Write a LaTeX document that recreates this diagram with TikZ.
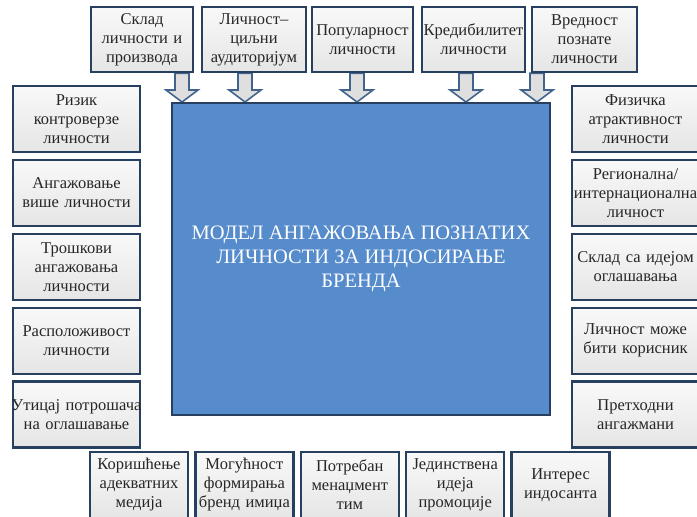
\documentclass[tikz,border=0pt]{standalone}
\usepackage{fontspec}
\setmainfont{Liberation Serif}
\usetikzlibrary{positioning,calc,backgrounds}
\definecolor{boxline}{RGB}{40,64,96}
\definecolor{modelfill}{RGB}{86,139,204}
\definecolor{arrowline}{RGB}{66,100,140}
% block arrow from a point under a top box down to the model box
\newcommand{\downarr}[2]{%
  \draw[blockarr] let \p1=(#1), \p2=(#2) in
    (\x1-7pt,\y1) -- (\x1+7pt,\y1) -- (\x1+7pt,\y2+12pt) -- (\x1+16pt,\y2+12pt)
    -- (\x1,\y2) -- (\x1-16pt,\y2+12pt) -- (\x1-7pt,\y2+12pt) -- cycle;}
\begin{document}
\begin{tikzpicture}[x=1pt,y=-1pt,
		factor/.style={draw=boxline, line width=2.4pt, top color=gray!5, bottom color=gray!20,
			minimum height=66pt, inner sep=0pt, text width=#1, align=center,
			font=\fontsize{16.5}{19}\selectfont, text=black!85},
		factor/.default=98pt,
		model/.style={draw=boxline, line width=2pt, fill=modelfill, minimum width=378pt,
			minimum height=312pt, align=center, text=white,
			font=\fontsize{20.5}{24}\selectfont},
		blockarr/.style={draw=arrowline, line width=1.6pt, fill=gray!25, line join=miter}]
	\useasboundingbox (0,0) rectangle (697,517);
	
	% centre
	\node [model] (model) at (361,259) {МОДЕЛ АНГАЖОВАЊА ПОЗНАТИХ\\ЛИЧНОСТИ ЗА ИНДОСИРАЊЕ\\БРЕНДА};
	
	% top row
	\node [factor=102pt,minimum height=65pt] (t1) at (142,39.5) {Склад\\личности и\\производа};
	\node [factor=104pt,minimum height=65pt] (t2) at (254,39.5) {Личност–\\циљни\\аудиторијум};
	\node [factor=101pt,minimum height=65pt] (t3) at (362.5,39.5) {Популарност\\личности};
	\node [factor=103pt,minimum height=65pt] (t4) at (473.5,39.5) {Кредибилитет\\личности};
	\node [factor=105pt,minimum height=65pt] (t5) at (584.5,39.5) {Вредност\\познате\\личности};
	
	% left column
	\begin{scope}[every node/.style={factor=127pt}]
	\node (l1) at (76.5,119) {Ризик\\контроверзе\\личности};
	\node [below=5.5pt of l1] (l2) {Ангажовање\\више личности};
	\node [below=5.5pt of l2] (l3) {Трошкови\\ангажовања\\личности};
	\node [below=5.5pt of l3] (l4) {Расположивост\\личности};
	\node [below=5.5pt of l4] (l5) {\makebox[\linewidth]{Утицај потрошача}\\на оглашавање};
	\end{scope}
	
	% right column
	\begin{scope}[every node/.style={factor=127pt}]
	\node (r1) at (635.5,119) {Физичка\\атрактивност\\личности};
	\node [below=5.5pt of r1] (r2) {Регионална/\\\makebox[\linewidth]{интернационална}\\личност};
	\node [below=5.5pt of r2] (r3) {Склад са идејом\\оглашавања};
	\node [below=5.5pt of r3] (r4) {Личност може\\бити корисник};
	\node [below=5.5pt of r4] (r5) {Претходни\\ангажмани};
	\end{scope}
	
	% bottom row
	\begin{scope}[every node/.style={factor}]
	\node (b1) at (139,485) {Коришћење\\адекватних\\медија};
	\node [right=5pt of b1] (b2) {Могућност\\формирања\\бренд имиџа};
	\node [right=5pt of b2] (b3) {Потребан\\менаџмент\\тим};
	\node [right=5pt of b3] (b4) {Јединствена\\идеја\\промоције};
	\node [right=5pt of b4] (b5) {Интерес\\индосанта};
	\end{scope}
	
	\begin{scope}[on background layer]
	\downarr{$(t1.south)+(40,0)$}{model.north}
	\downarr{$(t2.south)+(-9,0)$}{model.north}
	\downarr{$(t3.south)+(-5.5,0)$}{model.north}
	\downarr{$(t4.south)+(-7.5,0)$}{model.north}
	\downarr{$(t5.south)+(-47.5,0)$}{model.north}
	\end{scope}
\end{tikzpicture}
\end{document}
